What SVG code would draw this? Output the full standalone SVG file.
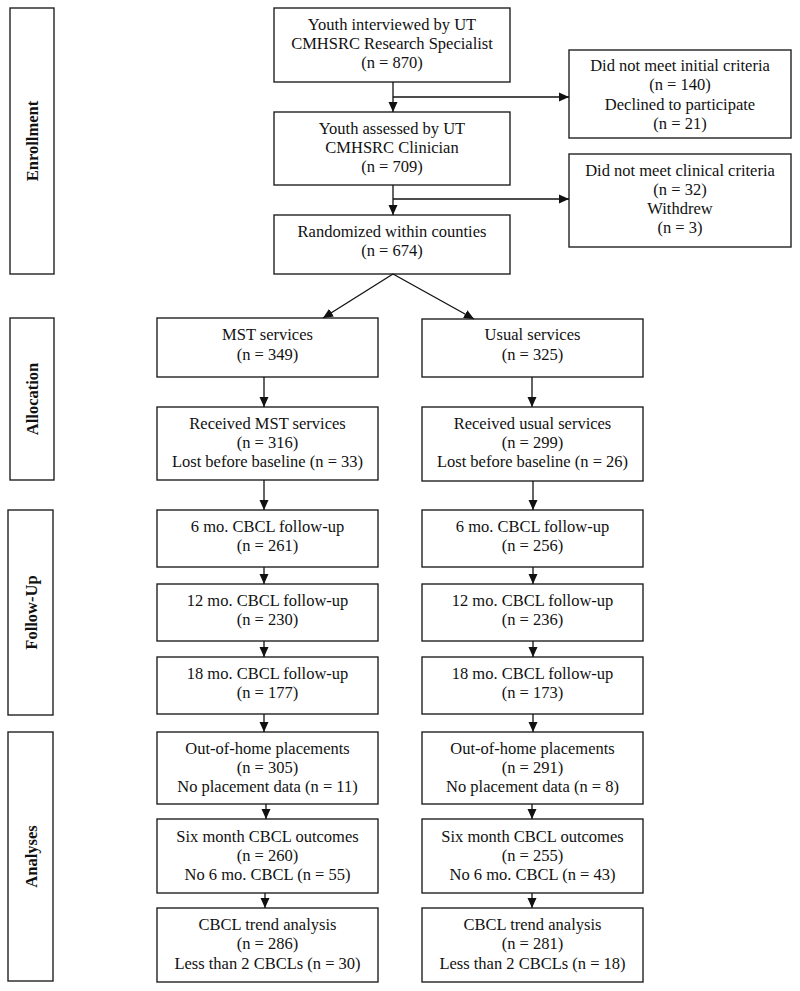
<svg xmlns="http://www.w3.org/2000/svg" width="800" height="991" viewBox="0 0 800 991">
<defs>
<marker id="ah" markerUnits="userSpaceOnUse" markerWidth="10" markerHeight="10" refX="10" refY="5" orient="auto">
<path d="M0,0.5 L10,5 L0,9.5 z" fill="#111"/>
</marker>
</defs>
<style>
rect{fill:#fff;stroke:#222;stroke-width:1.4}
text{font-family:"Liberation Serif","Times New Roman",serif;font-size:16.5px;fill:#111;text-anchor:middle}
.side{font-weight:bold}
.c line{stroke:#111;stroke-width:1.3;fill:none}
.c .a{marker-end:url(#ah)}
</style>
<rect width="800" height="991" style="fill:#fff;stroke:none"/>

<g id="side-enrollment"><rect x="10" y="8" width="44" height="266"/><text class="side" transform="translate(37.5,141) rotate(-90)">Enrollment</text></g>
<g id="side-allocation"><rect x="10" y="318" width="44" height="162"/><text class="side" transform="translate(37.5,399) rotate(-90)">Allocation</text></g>
<g id="side-followup"><rect x="8" y="510" width="45" height="205"/><text class="side" transform="translate(36.5,612.5) rotate(-90)">Follow-Up</text></g>
<g id="side-analyses"><rect x="8" y="732" width="45" height="249"/><text class="side" transform="translate(36.5,856.5) rotate(-90)">Analyses</text></g>

<g id="n-interviewed"><rect x="274" y="8" width="236" height="74"/><text x="392" y="29.5">Youth interviewed by UT</text><text x="392" y="48.8">CMHSRC Research Specialist</text><text x="392" y="68.1">(n = 870)</text></g>
<g id="n-initial"><rect x="569" y="50" width="222" height="88"/><text x="680" y="71">Did not meet initial criteria</text><text x="680" y="90.3">(n = 140)</text><text x="680" y="109.6">Declined to participate</text><text x="680" y="128.9">(n = 21)</text></g>
<g id="n-assessed"><rect x="274" y="112" width="236" height="73"/><text x="392" y="133.5">Youth assessed by UT</text><text x="392" y="152.8">CMHSRC Clinician</text><text x="392" y="172.1">(n = 709)</text></g>
<g id="n-clinical"><rect x="569" y="154" width="222" height="93"/><text x="680" y="175.5">Did not meet clinical criteria</text><text x="680" y="194.8">(n = 32)</text><text x="680" y="214.1">Withdrew</text><text x="680" y="233.4">(n = 3)</text></g>
<g id="n-randomized"><rect x="274" y="215" width="236" height="59"/><text x="392" y="236.5">Randomized within counties</text><text x="392" y="255.8">(n = 674)</text></g>

<g id="n-mst"><rect x="157" y="318" width="221" height="59"/><text x="267.5" y="340">MST services</text><text x="267.5" y="359.8">(n = 349)</text></g>
<g id="n-usual"><rect x="422" y="319" width="221" height="58"/><text x="532.5" y="340">Usual services</text><text x="532.5" y="359.8">(n = 325)</text></g>
<g id="n-recmst"><rect x="157" y="407" width="221" height="73"/><text x="267.5" y="428.5">Received MST services</text><text x="267.5" y="447.8">(n = 316)</text><text x="267.5" y="467.1">Lost before baseline (n = 33)</text></g>
<g id="n-recusual"><rect x="422" y="407" width="221" height="74"/><text x="532.5" y="428.5">Received usual services</text><text x="532.5" y="447.8">(n = 299)</text><text x="532.5" y="467.1">Lost before baseline (n = 26)</text></g>

<g id="n-6mst"><rect x="157" y="510" width="221" height="57"/><text x="267.5" y="532">6 mo. CBCL follow-up</text><text x="267.5" y="551.3">(n = 261)</text></g>
<g id="n-6us"><rect x="422" y="510" width="221" height="57"/><text x="532.5" y="532">6 mo. CBCL follow-up</text><text x="532.5" y="551.3">(n = 256)</text></g>
<g id="n-12mst"><rect x="157" y="584" width="221" height="57"/><text x="267.5" y="605.5">12 mo. CBCL follow-up</text><text x="267.5" y="624.8">(n = 230)</text></g>
<g id="n-12us"><rect x="422" y="584" width="221" height="57"/><text x="532.5" y="605.5">12 mo. CBCL follow-up</text><text x="532.5" y="624.8">(n = 236)</text></g>
<g id="n-18mst"><rect x="157" y="657" width="221" height="57"/><text x="267.5" y="678.5">18 mo. CBCL follow-up</text><text x="267.5" y="697.8">(n = 177)</text></g>
<g id="n-18us"><rect x="422" y="657" width="221" height="57"/><text x="532.5" y="678.5">18 mo. CBCL follow-up</text><text x="532.5" y="697.8">(n = 173)</text></g>

<g id="n-oohmst"><rect x="157" y="732" width="221" height="72"/><text x="267.5" y="753.5">Out-of-home placements</text><text x="267.5" y="772.8">(n = 305)</text><text x="267.5" y="792.1">No placement data (n = 11)</text></g>
<g id="n-oohus"><rect x="422" y="732" width="221" height="72"/><text x="532.5" y="753.5">Out-of-home placements</text><text x="532.5" y="772.8">(n = 291)</text><text x="532.5" y="792.1">No placement data (n = 8)</text></g>
<g id="n-sixmst"><rect x="157" y="819" width="221" height="74"/><text x="267.5" y="841.5">Six month CBCL outcomes</text><text x="267.5" y="860.8">(n = 260)</text><text x="267.5" y="880.1">No 6 mo. CBCL (n = 55)</text></g>
<g id="n-sixus"><rect x="422" y="819" width="221" height="74"/><text x="532.5" y="841.5">Six month CBCL outcomes</text><text x="532.5" y="860.8">(n = 255)</text><text x="532.5" y="880.1">No 6 mo. CBCL (n = 43)</text></g>
<g id="n-trendmst"><rect x="157" y="908" width="221" height="74"/><text x="267.5" y="930">CBCL trend analysis</text><text x="267.5" y="949.3">(n = 286)</text><text x="267.5" y="968.6">Less than 2 CBCLs (n = 30)</text></g>
<g id="n-trendus"><rect x="422" y="908" width="221" height="74"/><text x="532.5" y="930">CBCL trend analysis</text><text x="532.5" y="949.3">(n = 281)</text><text x="532.5" y="968.6">Less than 2 CBCLs (n = 18)</text></g>

<g id="connectors" class="c">
<line class="a" x1="393" y1="82" x2="393" y2="112"/>
<line class="a" x1="393" y1="97" x2="569" y2="97"/>
<line class="a" x1="393" y1="185" x2="393" y2="215"/>
<line class="a" x1="393" y1="199" x2="569" y2="199"/>
<line class="a" x1="393" y1="274" x2="323" y2="318"/>
<line class="a" x1="393" y1="274" x2="474" y2="319"/>
<line class="a" x1="264" y1="377" x2="264" y2="407"/>
<line class="a" x1="532" y1="377" x2="532" y2="407"/>
<line class="a" x1="264" y1="480" x2="264" y2="510"/>
<line class="a" x1="533" y1="481" x2="533" y2="510"/>
<line class="a" x1="264" y1="567" x2="264" y2="584"/>
<line class="a" x1="533" y1="567" x2="533" y2="584"/>
<line class="a" x1="264" y1="641" x2="264" y2="657"/>
<line class="a" x1="533" y1="641" x2="533" y2="657"/>
<line class="a" x1="264" y1="714" x2="264" y2="732"/>
<line class="a" x1="533" y1="714" x2="533" y2="732"/>
<line class="a" x1="266" y1="804" x2="266" y2="819"/>
<line class="a" x1="532" y1="804" x2="532" y2="819"/>
<line class="a" x1="265" y1="893" x2="265" y2="908"/>
<line class="a" x1="532" y1="893" x2="532" y2="908"/>
</g>
</svg>
